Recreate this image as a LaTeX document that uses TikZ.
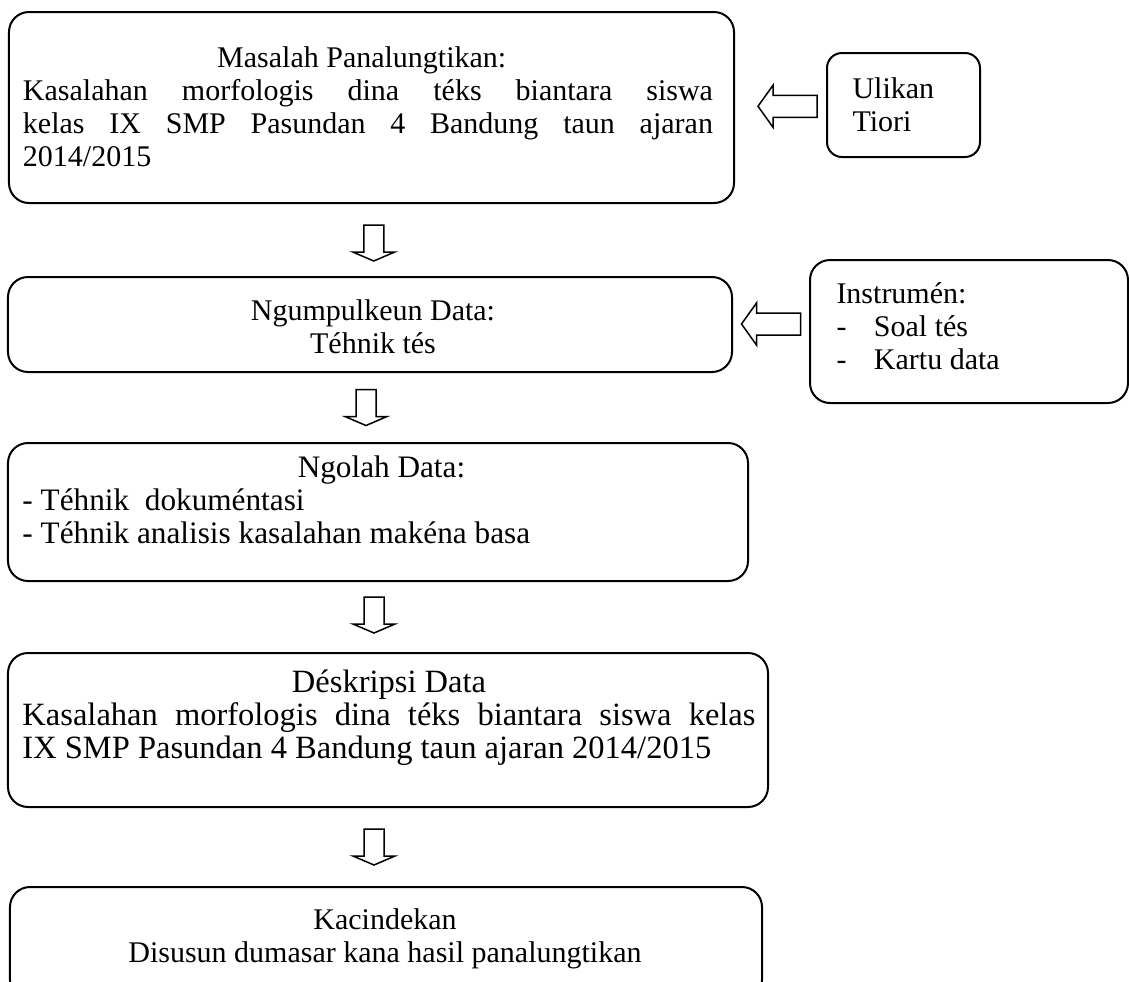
\documentclass[tikz,border=0pt]{standalone}
\usepackage{fontspec}
\setmainfont{Liberation Serif}
\usetikzlibrary{calc}
\tikzset{
  box/.style={draw, line width=0.8pt, rounded corners=8pt},
  txt/.style={font=\fontsize{12}{13.2}\selectfont, inner sep=0pt, align=center},
  hollow/.style={draw, line width=0.6pt, fill=white},
  pics/arrowdown/.style={code={\draw[hollow] (-10,-18) -- (-10,9) -- (-21,9) -- (0,18) -- (21,9) -- (10,9) -- (10,-18) -- cycle;}},
  pics/arrowleft/.style={code={\draw[hollow] (29.5,-11) -- (-14.5,-11) -- (-14.5,-21) -- (-29.5,0) -- (-14.5,21) -- (-14.5,11) -- (29.5,11) -- cycle;}}
}
\begin{document}
\begin{tikzpicture}[x=0.4pt, y=-0.4pt]
      \useasboundingbox (0,0) rectangle (1129,982);
      \clip (0,0) rectangle (1129,982);
      % Draw the boxes
      \node[box, minimum width=290pt, minimum height=76.4pt] (masalah) at (371.5,107.5) {};
      \node[box, rounded corners=6pt, minimum width=61.2pt, minimum height=41.6pt] (ulikan) at (903.5,105) {};
      \node[box, minimum width=289.6pt, minimum height=38pt] (ngumpul) at (370,324.5) {};
      \node[box, minimum width=127.2pt, minimum height=57.2pt] (instrumen) at (969,331.5) {};
      \node[box, minimum width=296pt, minimum height=55.2pt] (ngolah) at (378,512) {};
      \node[box, minimum width=304pt, minimum height=61.6pt] (deskripsi) at (388,730) {};
      \node[box, minimum width=300.8pt, minimum height=45.2pt] (kacindekan) at (386,943.5) {};
      % Draw the texts
      \node[txt] (tmasalah) at (368,106.5) {\makebox[276pt]{Masalah Panalungtikan:\hspace{5pt}}\\
        \makebox[276pt][s]{Kasalahan morfologis dina téks biantara siswa}\\
        \makebox[276pt][s]{kelas IX SMP Pasundan 4 Bandung taun ajaran}\\
        \makebox[276pt][l]{2014/2015}};
      \node[txt, align=left, anchor=west] (tulikan) at (852,104.5) {Ulikan\\Tiori};
      \node[txt] (tngumpul) at (373,326.5) {Ngumpulkeun Data:\\Téhnik tés};
      \node[txt, align=left, anchor=west] (tinstrumen) at (836,326.5) {Instrumén:\\
        \makebox[15pt][l]{-}Soal tés\\\makebox[15pt][l]{-}Kartu data};
      \node[txt, align=left, anchor=west, font=\fontsize{12.5}{13.2}\selectfont] (tngolah) at (22,500) {\makebox[287.2pt]{Ngolah Data:}\\
        - Téhnik\ \ dokuméntasi\\- Téhnik analisis kasalahan makéna basa};
      \node[txt, align=left, anchor=west, font=\fontsize{13}{13.2}\selectfont] (tdeskripsi) at (22,718) {\makebox[293.2pt]{Déskripsi Data}\\
        \makebox[293.2pt][s]{Kasalahan morfologis dina téks biantara siswa kelas}\\
        IX SMP Pasundan 4 Bandung taun ajaran 2014/2015};
      \node[txt] (tkacindekan) at (385,938.5) {Kacindekan\\Disusun dumasar kana hasil panalungtikan};
      % Draw the arrows
      \pic at ($(masalah.east)!.5!(ulikan.west)+(7,0)$) {arrowleft};
      \pic at ($(ngumpul.east)!.5!(instrumen.west)+(0,-4)$) {arrowleft};
      \pic at ($(masalah.south)!.5!(ngumpul.north)+(3,3)$) {arrowdown};
      \pic at ($(ngumpul.south)!.5!(ngolah.north)+(-8,0)$) {arrowdown};
      \pic at ($(ngolah.south)!.5!(deskripsi.north)+(-9,-2)$) {arrowdown};
      \pic at ($(deskripsi.south)!.5!(kacindekan.north)+(-13,0)$) {arrowdown};
\end{tikzpicture}
\end{document}
